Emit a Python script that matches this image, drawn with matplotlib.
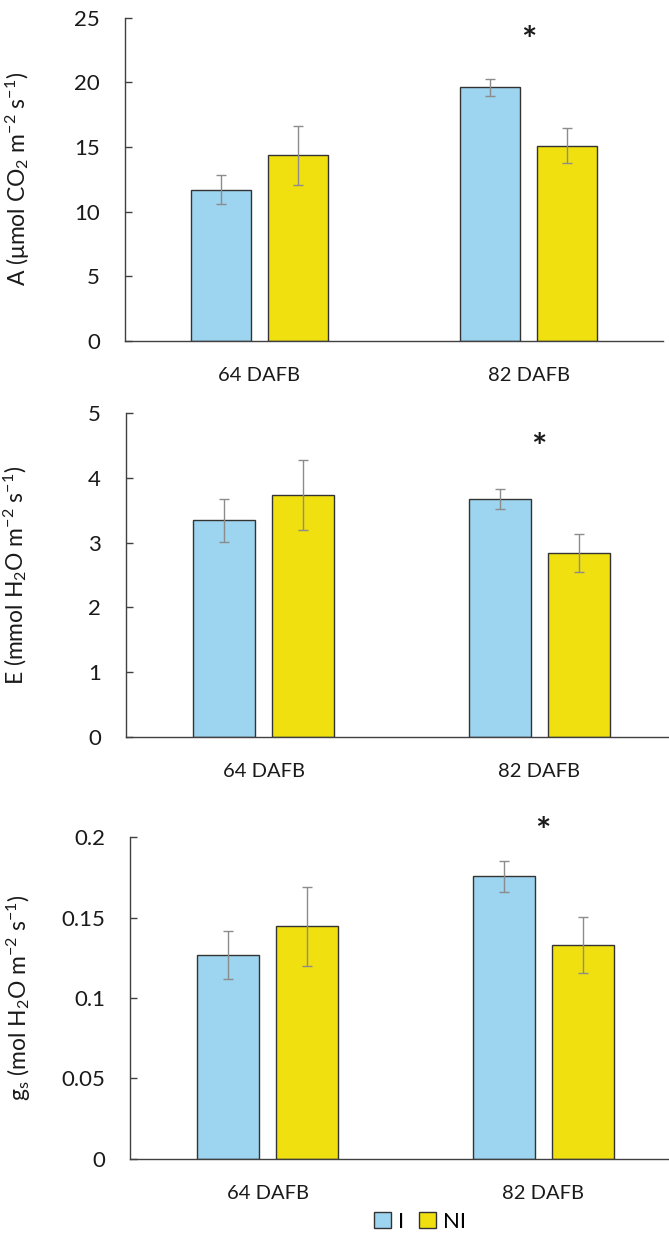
import matplotlib
matplotlib.use("Agg")
import matplotlib.pyplot as plt
from matplotlib.patches import Patch
import matplotlib.transforms as mtransforms
import numpy as np

plt.rcParams['font.family'] = ['Lato', 'DejaVu Sans']
plt.rcParams['mathtext.fontset'] = 'custom'
plt.rcParams['mathtext.rm'] = 'Lato'
plt.rcParams['mathtext.it'] = 'Lato:italic'
plt.rcParams['mathtext.default'] = 'rm'

categories = ["64 DAFB", "82 DAFB"]
series = ["I", "NI"]

A_I = [11.7, 19.6]
A_I_err = [1.1, 0.65]
A_NI = [14.35, 15.1]
A_NI_err = [2.3, 1.35]

E_I = [3.345, 3.67]
E_I_err = [0.33, 0.155]
E_NI = [3.735, 2.84]
E_NI_err = [0.545, 0.3]

gs_I = [0.1268, 0.1757]
gs_I_err = [0.0147, 0.0097]
gs_NI = [0.1446, 0.1328]
gs_NI_err = [0.0245, 0.0174]

star_pos = [23.9, 4.61, 0.209]

ylabels = [r'A ($\mu$mol CO$_2$ m$^{-2}$ s$^{-1}$)',
           r'E (mmol H$_2$O m$^{-2}$ s$^{-1}$)',
           r'g$_s$ (mol H$_2$O m$^{-2}$ s$^{-1}$)']
yticks = [[0, 5, 10, 15, 20, 25],
          [0, 1, 2, 3, 4, 5],
          [0, 0.05, 0.1, 0.15, 0.2]]
yticklabels = [["0", "5", "10", "15", "20", "25"],
               ["0", "1", "2", "3", "4", "5"],
               ["0", "0.05", "0.1", "0.15", "0.2"]]

col_I = "#9DD4F0"
col_NI = "#F0E010"
edge = "#333333"
errc = "#8C8C8C"
txt = "#1a1a1a"

W, H = 669, 1236
fig = plt.figure(figsize=(W / 100, H / 100), dpi=100)

# axes boxes in pixels: left, right, top, bottom
boxes = [(125, 663, 17.5, 341),
         (126, 677, 413.3, 736.7),
         (130, 681, 837.3, 1158.7)]
label_x = [32, 29, 33]

data = [(A_I, A_I_err, A_NI, A_NI_err),
        (E_I, E_I_err, E_NI, E_NI_err),
        (gs_I, gs_I_err, gs_NI, gs_NI_err)]

x = np.arange(len(categories))
bw = 0.226
off = 0.143

for i, (box, d) in enumerate(zip(boxes, data)):
    l, r, t, b = box
    ax = fig.add_axes([l / W, 1 - b / H, (r - l) / W, (b - t) / H])
    vi, ei, vn, en = d
    ax.bar(x - off, vi, bw, color=col_I, edgecolor=edge, linewidth=1.0, zorder=2)
    ax.bar(x + off, vn, bw, color=col_NI, edgecolor=edge, linewidth=1.0, zorder=2)
    ax.errorbar(x - off, vi, yerr=ei, fmt='none', ecolor=errc, elinewidth=1.0,
                capsize=3.5, capthick=1.0, zorder=3)
    ax.errorbar(x + off, vn, yerr=en, fmt='none', ecolor=errc, elinewidth=1.0,
                capsize=3.5, capthick=1.0, zorder=3)
    ax.set_xlim(-0.5, 1.5)
    ax.set_ylim(yticks[i][0], yticks[i][-1])
    ax.set_yticks(yticks[i])
    ax.set_yticklabels(yticklabels[i])
    ax.set_xticks(x)
    ax.set_xticklabels(categories)
    for s in ['top', 'right']:
        ax.spines[s].set_visible(False)
    for s in ['left', 'bottom']:
        ax.spines[s].set_color('#404040')
        ax.spines[s].set_linewidth(1.0)
    ax.tick_params(axis='y', direction='in', length=5, width=1.0, color='#404040',
                   labelsize=16, pad=18, labelcolor=txt)
    ax.tick_params(axis='x', length=0, labelsize=14.5, pad=19, labelcolor=txt)
    ax.set_ylabel(ylabels[i], fontsize=16.5, color=txt)
    ax.yaxis.set_label_coords((label_x[i] - l) / (r - l), 0.5)
    star_tr = mtransforms.offset_copy(ax.transData, fig=fig, x=0, y=-10, units='dots')
    ax.text(x[1], star_pos[i], "*", ha='center', va='center', fontsize=26,
            fontweight='bold', color=txt, transform=star_tr)
    ax.patch.set_alpha(0)

handles = [Patch(facecolor=col_I, edgecolor=edge, linewidth=1.0),
           Patch(facecolor=col_NI, edgecolor=edge, linewidth=1.0)]
fig.legend(handles, series, loc='center', bbox_to_anchor=(420 / W, 1 - 1222 / H),
           ncol=2, frameon=False, fontsize=16, handlelength=0.75, handleheight=0.75,
           handletextpad=0.3, columnspacing=0.7)

fig.savefig("out.png", dpi=100)
